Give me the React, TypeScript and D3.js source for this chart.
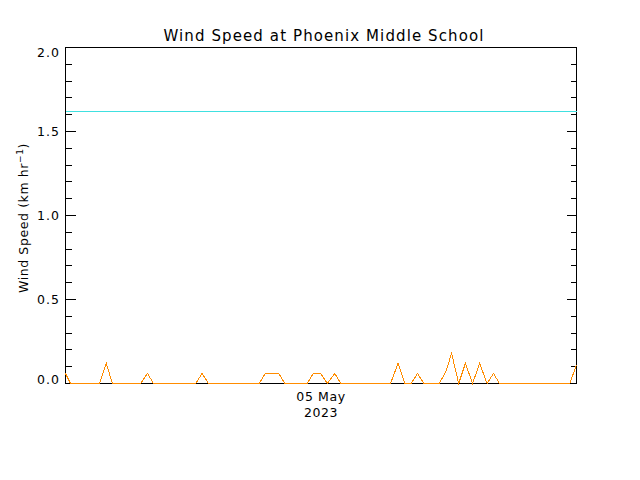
import * as d3 from "d3";
import React, { useEffect, useRef } from "react";

// wind speed samples (km/hr)
const times = [
  "2023-05-04T12:00", "2023-05-04T12:14", "2023-05-04T13:36", "2023-05-04T13:55", "2023-05-04T14:12",
  "2023-05-04T15:32", "2023-05-04T15:51", "2023-05-04T16:08", "2023-05-04T18:07", "2023-05-04T18:25",
  "2023-05-04T18:43", "2023-05-04T21:06", "2023-05-04T21:23", "2023-05-04T22:01", "2023-05-04T22:18",
  "2023-05-04T23:21", "2023-05-04T23:38", "2023-05-04T23:59", "2023-05-05T00:18", "2023-05-05T00:39",
  "2023-05-05T00:56", "2023-05-05T03:16", "2023-05-05T03:37", "2023-05-05T03:56", "2023-05-05T04:14",
  "2023-05-05T04:32", "2023-05-05T04:50", "2023-05-05T05:33", "2023-05-05T05:52", "2023-05-05T06:08",
  "2023-05-05T06:28", "2023-05-05T06:47", "2023-05-05T07:07", "2023-05-05T07:27", "2023-05-05T07:48",
  "2023-05-05T08:06", "2023-05-05T08:23", "2023-05-05T11:41", "2023-05-05T12:00",
];
const speeds = [
  0.06, 0, 0, 0.12, 0,
  0, 0.06, 0, 0, 0.06,
  0, 0, 0.06, 0.06, 0,
  0, 0.06, 0.06, 0, 0.06,
  0, 0, 0.12, 0, 0,
  0.06, 0, 0, 0.07, 0.18,
  0, 0.12, 0, 0.12, 0,
  0.06, 0, 0, 0.11,
];
const timeRange = ["2023-05-04T12:00", "2023-05-05T12:00"];
const speedRange = [0, 2];
const referenceLevel = [1.62];

const width = 640;
const height = 480;
const left = 65.5, right = 576.5, top = 47.5, bottom = 383.5;
const font = "'DejaVu Sans', sans-serif";

const App: React.FC = () => {
  const wrapper = useRef<SVGSVGElement>(null);

  useEffect(() => {
    if (!wrapper.current) return;
    const svg = d3.select(wrapper.current);
    svg.selectAll("*").remove();

    const parse = d3.timeParse("%Y-%m-%dT%H:%M");
    const x = d3.scaleTime()
      .domain(timeRange.map((t) => parse(t) as Date))
      .range([left, right]);
    const y = d3.scaleLinear().domain(speedRange).range([bottom, top]);

    svg.append("rect")
      .attr("width", width).attr("height", height).attr("fill", "white");

    // title
    svg.append("text")
      .attr("x", 324).attr("y", 41)
      .attr("text-anchor", "middle")
      .style("font-family", font).style("font-size", "15px")
      .style("letter-spacing", "1.1px")
      .text("Wind Speed at Phoenix Middle School");

    const g = svg.append("g")
      .attr("shape-rendering", "crispEdges");

    // frame
    g.append("rect")
      .attr("x", left).attr("y", top)
      .attr("width", right - left).attr("height", bottom - top)
      .attr("fill", "none").attr("stroke", "black");

    const major = y.ticks(4);
    const minor = y.ticks(20).filter((d) => !major.includes(d));

    const tickData = [
      ...major.map((d) => ({ v: d, len: 10 })),
      ...minor.map((d) => ({ v: d, len: 6 })),
    ];
    g.selectAll(null)
      .data(tickData)
      .enter()
      .append("path")
      .attr("d", (d) => `M${left},${y(d.v)}h${d.len}M${right},${y(d.v)}h${-d.len}`)
      .attr("stroke", "black");

    svg.selectAll(null)
      .data(major)
      .enter()
      .append("text")
      .attr("x", 60)
      .attr("y", (d) => Math.min(Math.max(y(d), top + 4.5), bottom - 4.5))
      .attr("dy", "0.36em")
      .attr("text-anchor", "end")
      .style("font-family", font).style("font-size", "12.5px")
      .style("letter-spacing", "1px")
      .text((d) => d3.format(".1f")(d));

    // y label
    const yl = svg.append("text")
      .attr("transform", "translate(28,218) rotate(-90)")
      .attr("text-anchor", "middle")
      .style("font-family", font).style("font-size", "12.5px")
      .style("letter-spacing", "0.6px");
    yl.append("tspan").text("Wind Speed (km hr");
    yl.append("tspan").attr("dy", -5).style("font-size", "9px").text("−1");
    yl.append("tspan").attr("dy", 5).text(")");

    // x labels at day boundaries
    const days = x.ticks(d3.timeDay);
    const xl = svg.selectAll(null)
      .data(days)
      .enter()
      .append("text")
      .attr("x", (d) => x(d))
      .attr("text-anchor", "middle")
      .style("font-family", font).style("font-size", "12.5px")
      .style("letter-spacing", "0.6px");
    xl.append("tspan").attr("y", 401).text(d3.timeFormat("%d %b"));
    xl.append("tspan").attr("x", (d) => x(d)).attr("y", 417).text(d3.timeFormat("%Y"));

    // reference level
    g.selectAll(null)
      .data(referenceLevel)
      .enter()
      .append("line")
      .attr("x1", left).attr("x2", right)
      .attr("y1", (d) => Math.round(y(d)) + 0.5)
      .attr("y2", (d) => Math.round(y(d)) + 0.5)
      .attr("stroke", "#40e0e0");

    const line = d3.line<number>()
      .x((_, i) => x(parse(times[i]) as Date))
      .y((d) => y(d));

    svg.append("path")
      .datum(speeds)
      .attr("d", line)
      .attr("fill", "none")
      .attr("stroke", "#ff8c00")
      .attr("stroke-width", 1)
      .attr("shape-rendering", "crispEdges");
  }, []);

  return (
    <svg
      ref={wrapper}
      width={width}
      height={height}
      style={{ position: "absolute", left: 0, top: 0 }}
    />
  );
};

export default App;
